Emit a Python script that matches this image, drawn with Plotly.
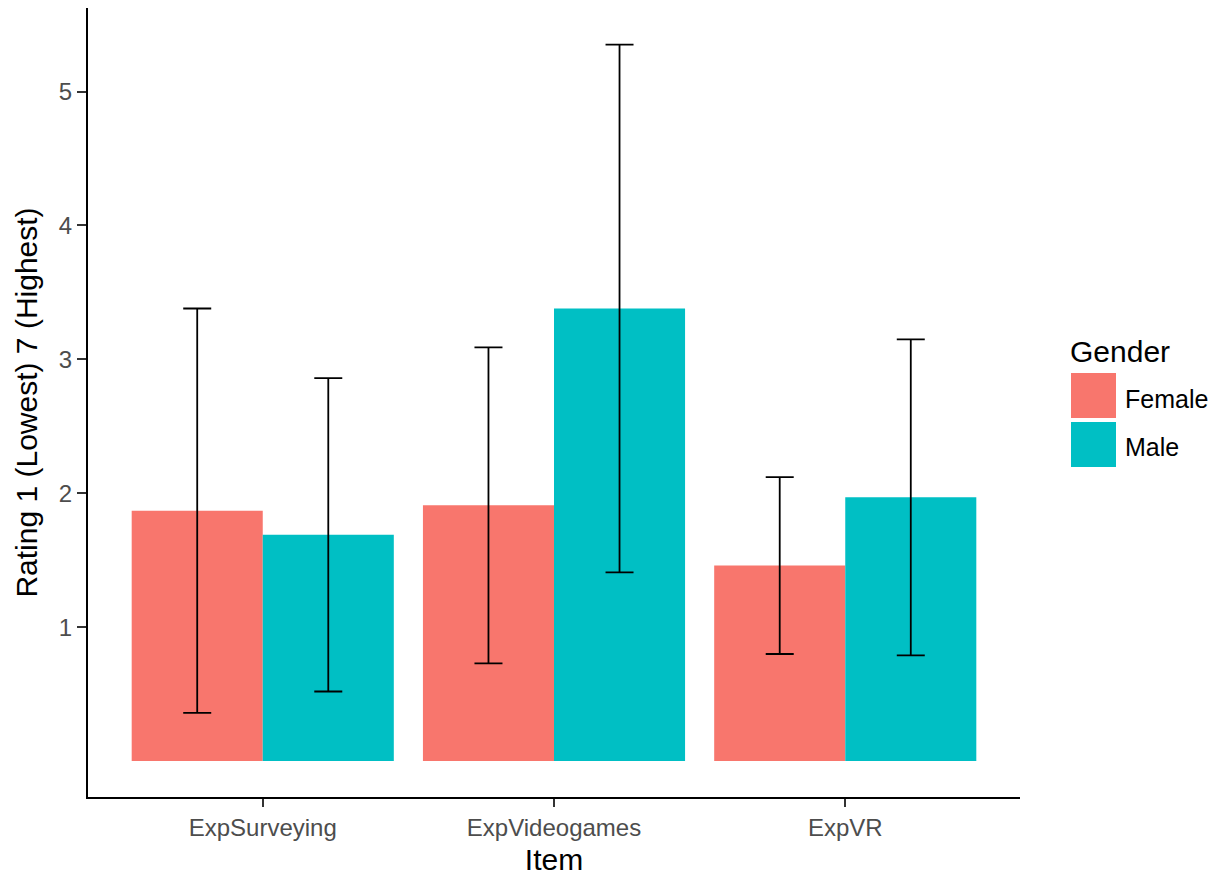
import plotly.graph_objects as go

# Mean rating and standard deviation per item, split by gender
items = ["ExpSurveying", "ExpVideogames", "ExpVR"]
female_mean = [1.87, 1.91, 1.46]
female_sd = [1.51, 1.18, 0.66]
male_mean = [1.69, 3.38, 1.97]
male_sd = [1.17, 1.97, 1.18]
y_ticks = [1, 2, 3, 4, 5]

FEMALE_COLOR = "#F8766D"
MALE_COLOR = "#00BFC4"
FONT = "Liberation Sans, Arial, sans-serif"

W, H = 1220, 880
M_L, M_R, M_T, M_B = 88, 200, 8, 83
PLOT_W = W - M_L - M_R
PLOT_H = H - M_T - M_B


def px_x(px):
    return (px - M_L) / PLOT_W


def px_y(py):
    return (H - M_B - py) / PLOT_H


err_style = dict(type="data", color="black", thickness=1.8, width=14)

fig = go.Figure()
fig.add_trace(go.Bar(
    x=items, y=female_mean, name="Female",
    marker=dict(color=FEMALE_COLOR, line=dict(width=0)),
    error_y=dict(array=female_sd, **err_style),
))
fig.add_trace(go.Bar(
    x=items, y=male_mean, name="Male",
    marker=dict(color=MALE_COLOR, line=dict(width=0)),
    error_y=dict(array=male_sd, **err_style),
))

fig.update_layout(
    width=W, height=H,
    margin=dict(l=M_L, r=M_R, t=M_T, b=M_B),
    paper_bgcolor="white", plot_bgcolor="white",
    barmode="group", bargap=0.1, bargroupgap=0,
    showlegend=False,
    font=dict(family=FONT, color="black"),
)

fig.update_xaxes(
    range=[-0.6, 2.6],
    showline=True, linecolor="black", linewidth=2,
    ticks="outside", ticklen=8, tickwidth=2, tickcolor="#333333",
    tickfont=dict(size=24, color="#4D4D4D", family=FONT),
    showgrid=False, zeroline=False,
    title=dict(text="Item", font=dict(size=30, color="black", family=FONT), standoff=9),
)
fig.update_yaxes(
    range=[-0.268, 5.624],
    tickvals=y_ticks, ticktext=[str(v) for v in y_ticks],
    showline=True, linecolor="black", linewidth=2,
    ticks="outside", ticklen=9, tickwidth=2, tickcolor="#333333",
    tickfont=dict(size=24, color="#4D4D4D", family=FONT),
    showgrid=False, zeroline=False,
    title=dict(text="Rating 1 (Lowest) 7 (Highest)",
               font=dict(size=30, color="black", family=FONT), standoff=12),
)

# Legend drawn by hand to get the large square keys
key_x0, key_x1 = 1071, 1116
keys = [("Female", FEMALE_COLOR, 373, 418), ("Male", MALE_COLOR, 422, 467)]
for label, color, y0, y1 in keys:
    fig.add_shape(type="rect", xref="paper", yref="paper",
                  x0=px_x(key_x0), x1=px_x(key_x1), y0=px_y(y1), y1=px_y(y0),
                  fillcolor=color, line=dict(width=0))
    fig.add_annotation(xref="paper", yref="paper", x=px_x(1123), y=px_y((y0 + y1) / 2 + 3),
                       text=label, showarrow=False, xanchor="left", yanchor="middle",
                       font=dict(size=25, color="black", family=FONT))
fig.add_annotation(xref="paper", yref="paper", x=px_x(1068), y=px_y(351),
                   text="Gender", showarrow=False, xanchor="left", yanchor="middle",
                   font=dict(size=30, color="black", family=FONT))

fig.write_html("out.html")
